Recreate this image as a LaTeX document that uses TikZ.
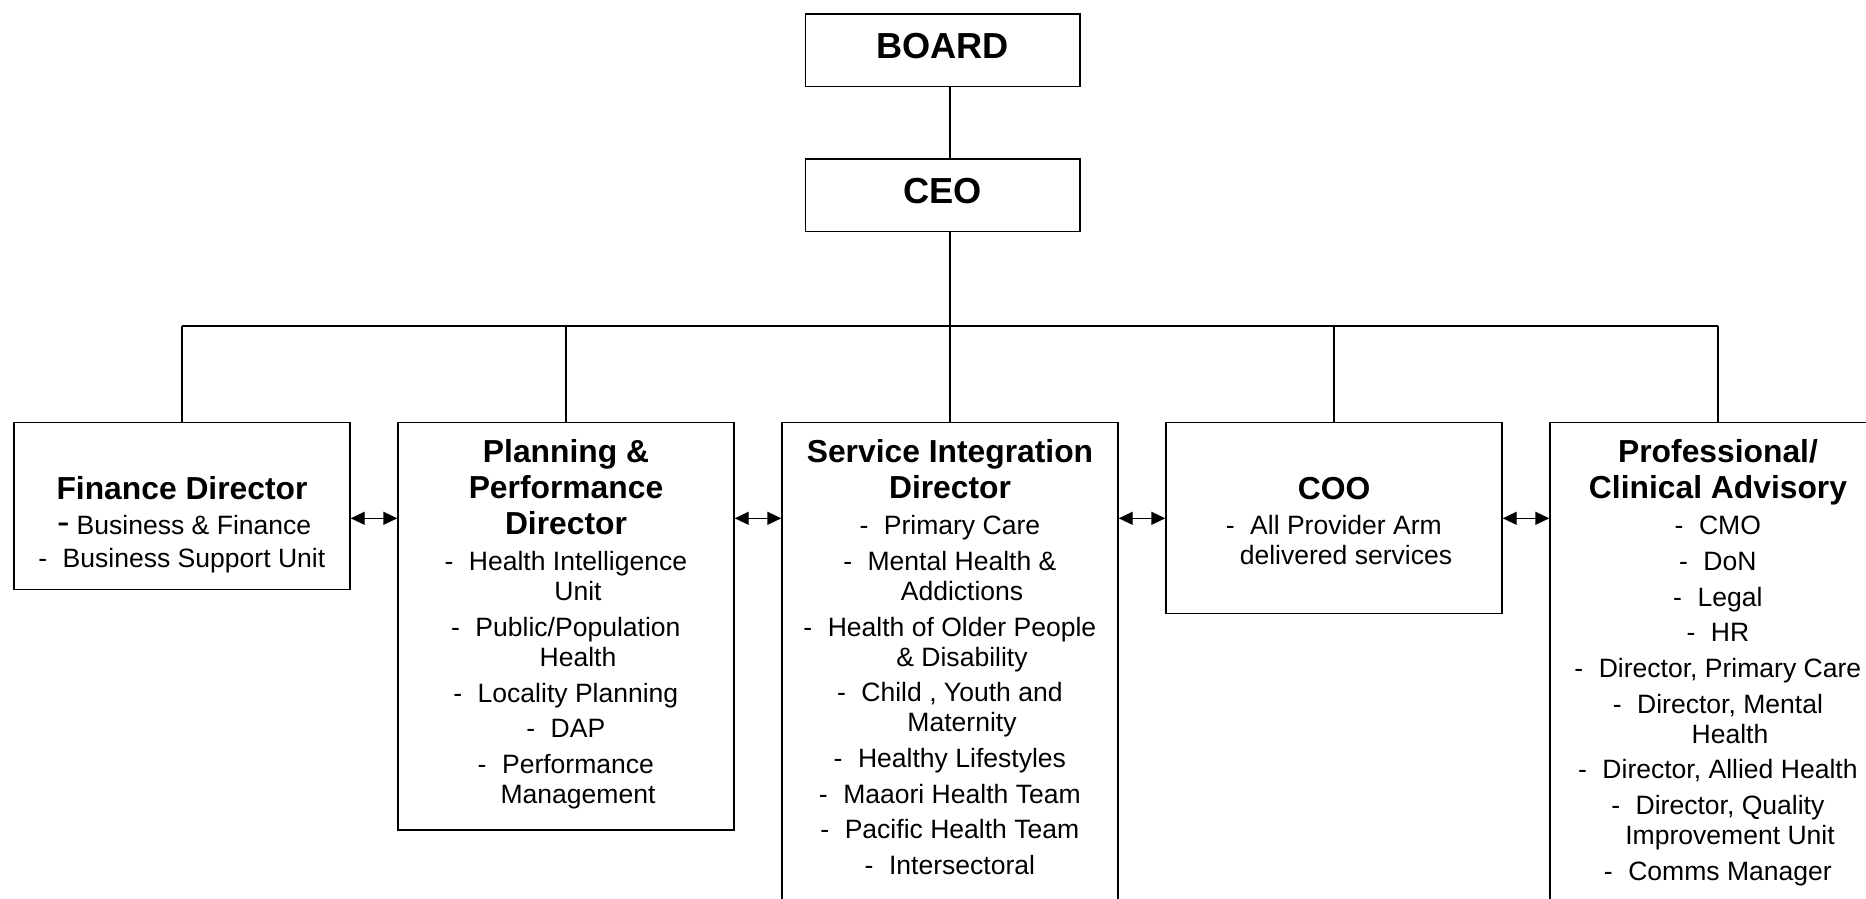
\documentclass[tikz,border=0pt]{standalone}
\usepackage{fontspec}
\setmainfont{Liberation Sans}
\usetikzlibrary{arrows.meta, positioning, calc}

\newcommand{\headfont}{\fontsize{10.3pt}{12pt}\selectfont\bfseries}
\newcommand{\titlefont}{\fontsize{9.05pt}{10.2pt}\selectfont\bfseries}
\newcommand{\unitfont}{\fontsize{7.55pt}{8.54pt}\selectfont}
\newlength{\deptgap}\setlength{\deptgap}{1.6pt}
\newcommand{\dept}[1]{\hspace*{0.24cm}\llap{-\hspace{0.155cm}}#1}
\newcommand{\deptcont}[1]{\hspace*{0.24cm}#1}

\tikzset{
    topbox/.style={draw, minimum width=2.747cm, inner sep=0pt, text height=0.45cm, text depth=0.277cm, font=\headfont},
    unitbox/.style={draw, anchor=north, inner sep=0pt, text width=3.36cm, minimum width=3.36cm, align=flush center},
}

\begin{document}
\begin{tikzpicture}[>={Triangle[length=0.14cm, width=0.13cm]}, line width=0.4pt]
        \useasboundingbox (0,0) rectangle (18.66,-8.98);

        % BOARD / CEO
        \node[topbox, anchor=north] (board) at (9.427,-0.133) {BOARD};
        \node[topbox, below=0.707cm of board] (ceo) {CEO};

        % FINANCE
        \node[unitbox, text height=0.766cm, text depth=0.907cm] (fin) at (1.82,-4.217) {%
            {\titlefont Finance Director\par}\vspace{1.6pt}
            {\unitfont \hspace*{0.24cm}\llap{{\fontsize{10.7pt}{10.7pt}\selectfont -}\hspace{0.07cm}}Business \& Finance\\[0.8pt]
            \dept{Business Support Unit}\par}};

        % PLANNING
        \node[unitbox, text height=0.40cm, text depth=3.676cm] (plan) at ($(fin.north) + (3.84, 0)$) {%
            {\titlefont Planning \&\\ Performance\\ Director\par}\vspace{1.9pt}
            {\unitfont \dept{Health Intelligence}\\ \deptcont{Unit}\\[\deptgap]
            \dept{Public/Population}\\ \deptcont{Health}\\[\deptgap]
            \dept{Locality Planning}\\[\deptgap]
            \dept{DAP}\\[\deptgap]
            \dept{Performance}\\ \deptcont{Management}\par}};

        % SERVICE INTEGRATION
        \node[unitbox, text height=0.40cm, text depth=4.6cm] (sid) at ($(plan.north) + (3.84, 0)$) {%
            {\titlefont Service Integration\\ Director\par}\vspace{1.9pt}
            {\unitfont \dept{Primary Care}\\[\deptgap]
            \dept{Mental Health \&}\\ \deptcont{Addictions}\\[\deptgap]
            \dept{Health of Older People}\\ \deptcont{\& Disability}\\[\deptgap]
            \dept{Child , Youth and}\\ \deptcont{Maternity}\\[\deptgap]
            \dept{Healthy Lifestyles}\\[\deptgap]
            \dept{Maaori Health Team}\\[\deptgap]
            \dept{Pacific Health Team}\\[\deptgap]
            \dept{Intersectoral}\par}};

        % COO
        \node[unitbox, text height=0.766cm, text depth=1.144cm] (coo) at ($(sid.north) + (3.84, 0)$) {%
            {\titlefont COO\par}\vspace{1.6pt}
            {\unitfont \dept{All Provider Arm}\\ \deptcont{delivered services}\par}};

        % PROFESSIONAL / CLINICAL
        \node[unitbox, text height=0.40cm, text depth=4.6cm] (prof) at ($(coo.north) + (3.84, 0)$) {%
            {\titlefont Professional/\\ Clinical Advisory\par}\vspace{1.9pt}
            {\unitfont \dept{CMO}\\[\deptgap]
            \dept{DoN}\\[\deptgap]
            \dept{Legal}\\[\deptgap]
            \dept{HR}\\[\deptgap]
            \dept{Director, Primary Care}\\[\deptgap]
            \dept{Director, Mental}\\ \deptcont{Health}\\[\deptgap]
            \dept{Director, Allied Health}\\[\deptgap]
            \dept{Director, Quality}\\ \deptcont{Improvement Unit}\\[\deptgap]
            \dept{Comms Manager}\par}};

        % REPORTING LINES
        \coordinate (bus) at (0,-3.26);
        \draw (board.south -| sid.north) -- (ceo.north -| sid.north);
        \draw (ceo.south -| sid.north) -- (sid.north);
        \draw (fin.north |- bus) -- (prof.north |- bus);
        \foreach \n in {fin, plan, coo, prof}
            \draw (\n.north) -- (\n.north |- bus);

        % PEER LINKS
        \foreach \a/\b in {fin/plan, plan/sid, sid/coo, coo/prof}
            \draw[<->] ([yshift=-0.966cm]\a.north east) -- ([yshift=-0.966cm]\b.north west);

\end{tikzpicture}
\end{document}
